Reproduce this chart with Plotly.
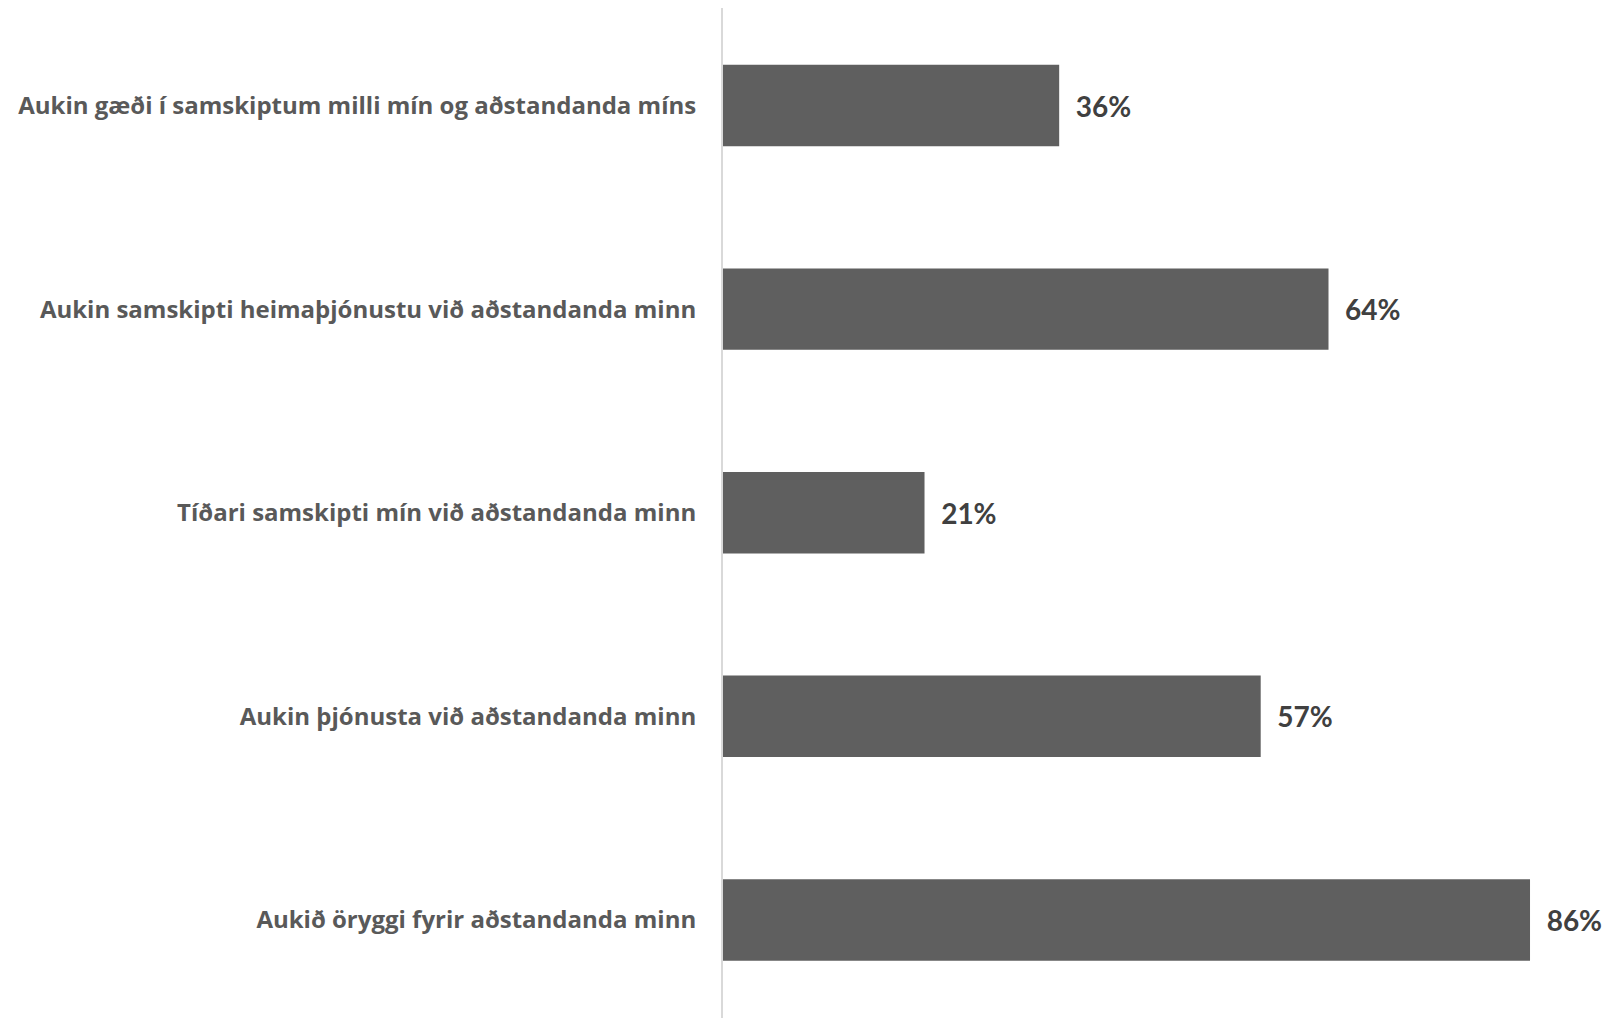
import plotly.graph_objects as go

categories = [
    "Aukin gæði í samskiptum milli mín og aðstandanda míns",
    "Aukin samskipti heimaþjónustu við aðstandanda minn",
    "Tíðari samskipti mín við aðstandanda minn",
    "Aukin þjónusta við aðstandanda minn",
    "Aukið öryggi fyrir aðstandanda minn",
]
values = [35.7, 64.3, 21.4, 57.1, 85.7]

fig = go.Figure(
    go.Bar(
        x=values,
        y=categories,
        orientation="h",
        marker=dict(color="#5f5f5f", line=dict(width=0)),
        texttemplate="\u00a0\u00a0%{x:.0f}%",
        textposition="outside",
        cliponaxis=False,
        textfont=dict(family="Lato", size=28, color="#404040", weight="bold"),
        width=0.4,
    )
)

fig.update_layout(
    width=1622,
    height=1018,
    margin=dict(l=715, r=19, t=0, b=0, autoexpand=False),
    plot_bgcolor="white",
    paper_bgcolor="white",
    showlegend=False,
    font=dict(family="Open Sans"),
)
fig.update_xaxes(
    range=[0, 94.3],
    showgrid=False,
    zeroline=False,
    showticklabels=False,
    showline=False,
)
fig.update_yaxes(
    range=[4.521, -0.479],
    showgrid=False,
    zeroline=False,
    showline=True,
    linecolor="#d9d9d9",
    linewidth=2,
    ticks="",
    ticklabelstandoff=20,
    tickfont=dict(family="Open Sans", size=24, color="#595959", weight="bold"),
)

fig.write_html("out.html")
